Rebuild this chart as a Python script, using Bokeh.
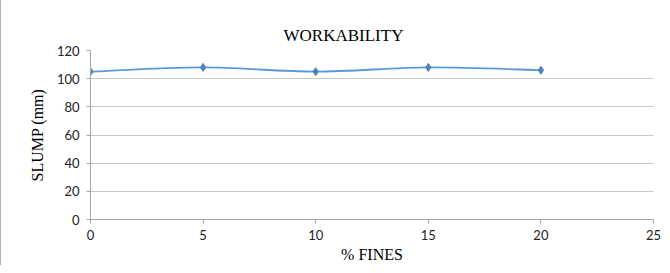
import numpy as np
from bokeh.plotting import figure
from bokeh.models import Range1d, FixedTicker
from bokeh.embed import file_html
from bokeh.resources import INLINE

fines = [0, 5, 10, 15, 20]
slump = [105, 108, 105, 108, 106]
x_ticks = [0, 5, 10, 15, 20, 25]
y_ticks = [0, 20, 40, 60, 80, 100, 120]

SERIF = "'Liberation Serif', 'Times New Roman', serif"

p = figure(width=662, height=265, output_backend="svg", toolbar_location=None,
           x_range=Range1d(0, 25), y_range=Range1d(0, 120),
           min_border_left=89, min_border_right=10, min_border_top=50, min_border_bottom=43)
p.styles = {"border-left": "1px solid #b0b0b0"}

p.title.text = "WORKABILITY"
p.title.text_font = SERIF
p.title.text_font_size = "17px"
p.title.text_font_style = "normal"
p.title.text_color = "#000000"
p.title.align = "left"
p.title.offset = 193
p.title.standoff = 11

p.outline_line_color = None
p.xgrid.grid_line_color = None
p.ygrid.grid_line_color = "#c8c8c8"
p.ygrid.grid_line_width = 1

p.xaxis.ticker = FixedTicker(ticks=x_ticks)
p.yaxis.ticker = FixedTicker(ticks=y_ticks)
for ax in (p.xaxis[0], p.yaxis[0]):
    ax.axis_line_color = "#a6a6a6"
    ax.major_tick_line_color = "#a6a6a6"
    ax.minor_tick_line_color = None
    ax.major_tick_in = 0
    ax.major_tick_out = 4
    ax.major_label_text_font = "Lato"
    ax.major_label_text_font_size = "13px"
    ax.major_label_text_color = "#222222"
    ax.axis_label_text_font = SERIF
    ax.axis_label_text_font_size = "16px"
    ax.axis_label_text_font_style = "normal"
    ax.axis_label_text_color = "#000000"
p.xaxis.axis_label = "% FINES"
p.yaxis.axis_label = "SLUMP (mm)"
p.xaxis.major_label_standoff = 6
p.yaxis.major_label_standoff = 7
p.xaxis.axis_label_standoff = 3
p.yaxis.axis_label_standoff = 8

# smoothed line (Catmull-Rom style bezier through the data points)
xs = np.array(fines, dtype=float)
ys = np.array(slump, dtype=float)
xp = np.concatenate([[xs[0]], xs, [xs[-1]]])
yp = np.concatenate([[ys[0]], ys, [ys[-1]]])
n = len(xs)
cx0 = xs[:-1] + (xp[2:n+1] - xp[0:n-1]) / 6
cy0 = ys[:-1] + (yp[2:n+1] - yp[0:n-1]) / 6
cx1 = xs[1:] - (xp[3:n+2] - xp[1:n]) / 6
cy1 = ys[1:] - (yp[3:n+2] - yp[1:n]) / 6
p.bezier(x0=xs[:-1], y0=ys[:-1], x1=xs[1:], y1=ys[1:],
         cx0=cx0, cy0=cy0, cx1=cx1, cy1=cy1, line_color="#5b9bd5", line_width=1.8)
p.scatter(fines, slump, marker="diamond", size=8, fill_color="#4f81bd", line_color="#4f81bd")

open("out.html", "w").write(file_html(p, INLINE))
